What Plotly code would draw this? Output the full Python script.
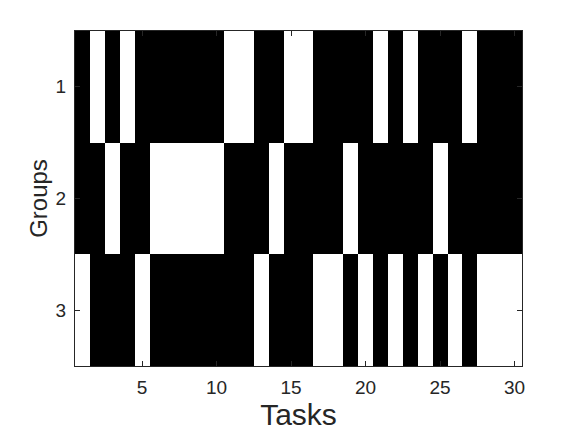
import plotly.graph_objects as go

# task -> group assignment (1 = assigned, shown white)
tasks = list(range(1, 31))
groups = [1, 2, 3]
group1_tasks = [2, 4, 11, 12, 15, 16, 21, 23, 27]
group2_tasks = [3, 6, 7, 8, 9, 10, 14, 19, 25]
group3_tasks = [1, 5, 13, 17, 18, 20, 22, 24, 26, 28, 29, 30]

z = [
    [1 if t in group1_tasks else 0 for t in tasks],
    [1 if t in group2_tasks else 0 for t in tasks],
    [1 if t in group3_tasks else 0 for t in tasks],
]

axis_color = "#262626"
font_family = "Liberation Sans, Arial, Helvetica, sans-serif"

fig = go.Figure(go.Heatmap(
    x=tasks, y=groups, z=z,
    colorscale=[[0, "black"], [1, "white"]],
    zmin=0, zmax=1,
    showscale=False,
))

# page body has an 8px margin, so offsets are compensated here
fig.update_layout(
    width=576, height=432,
    paper_bgcolor="white",
    plot_bgcolor="white",
    margin=dict(l=67, r=62, t=23, b=74),
    font=dict(family=font_family, color=axis_color, size=19),
    xaxis=dict(
        range=[0.5, 30.5],
        tickvals=[5, 10, 15, 20, 25, 30],
        ticks="inside", ticklen=5, tickcolor=axis_color,
        showline=True, linecolor=axis_color, linewidth=1, mirror="ticks",
        showgrid=False, zeroline=False,
        ticklabelstandoff=4,
        title=dict(text="Tasks", font=dict(size=30, color=axis_color), standoff=4),
    ),
    yaxis=dict(
        range=[3.5, 0.5],
        tickvals=groups,
        ticks="inside", ticklen=5, tickcolor=axis_color,
        showline=True, linecolor=axis_color, linewidth=1, mirror="ticks",
        showgrid=False, zeroline=False,
        ticklabelstandoff=4,
        title=dict(text="Groups", font=dict(size=24, color=axis_color), standoff=1),
    ),
)

fig.write_html("out.html")
